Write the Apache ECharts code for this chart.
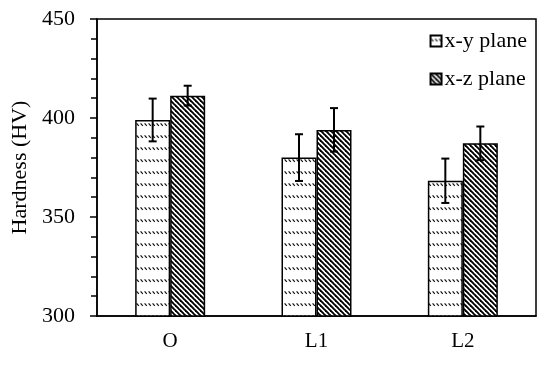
<!DOCTYPE html>
<html>
<head>
<meta charset="utf-8">
<script src="https://cdn.jsdelivr.net/npm/echarts@6/dist/echarts.min.js"></script>
<style>html,body{margin:0;padding:0;background:#fff;}#c{width:550px;height:366px;}</style>
</head>
<body>
<div id="c"></div>
<script>
var categories = ['O', 'L1', 'L2'];
var xyMean = [399, 380, 368.3];
var xyErr = [10.8, 11.8, 11.2];
var xzMean = [411.3, 394, 387.2];
var xzErr = [5, 11, 8.5];
var seriesNames = ['x-y plane', 'x-z plane'];
var yTicks = [300, 350, 400, 450];

var BAR_W = 35;
var FONT = '"Liberation Serif", "Times New Roman", serif';

function makeXZPattern() {
  var s = 5;
  var c = document.createElement('canvas');
  c.width = s; c.height = s;
  var g = c.getContext('2d');
  g.fillStyle = '#fff'; g.fillRect(0, 0, s, s);
  g.strokeStyle = '#000'; g.lineWidth = 1.9;
  for (var k = -1; k <= 1; k++) {
    g.beginPath();
    g.moveTo(k * s - 1, -1);
    g.lineTo(k * s + s + 1, s + 1);
    g.stroke();
  }
  return c;
}
function makeXYPattern() {
  var w = 4, h = 12;
  var c = document.createElement('canvas');
  c.width = w; c.height = h;
  var g = c.getContext('2d');
  g.fillStyle = '#fff'; g.fillRect(0, 0, w, h);
  g.strokeStyle = '#111'; g.lineWidth = 1.2;
  g.beginPath();
  g.moveTo(0.6, 3.4);
  g.lineTo(2.8, 5.8);
  g.stroke();
  return c;
}

var chart = echarts.init(document.getElementById('c'), null, {renderer: 'canvas'});

function errSeries(means, errs, offset) {
  var data = means.map(function (m, i) { return [i, m - errs[i], m + errs[i]]; });
  return {
    type: 'custom',
    silent: true,
    z: 10,
    data: data,
    renderItem: function (params, api) {
      var x = api.value(0);
      var lo = api.coord([x, api.value(1)]);
      var hi = api.coord([x, api.value(2)]);
      var cx = lo[0] + offset;
      var cap = 4;
      var st = {stroke: '#000', lineWidth: 2};
      return {
        type: 'group',
        children: [
          {type: 'line', shape: {x1: cx, y1: lo[1], x2: cx, y2: hi[1]}, style: st},
          {type: 'line', shape: {x1: cx - cap, y1: hi[1], x2: cx + cap, y2: hi[1]}, style: st},
          {type: 'line', shape: {x1: cx - cap, y1: lo[1], x2: cx + cap, y2: lo[1]}, style: st}
        ]
      };
    }
  };
}

var option = {
  animation: false,
  backgroundColor: '#fff',
  grid: {left: 97, right: 14, top: 19, bottom: 50, show: true, borderColor: '#000', borderWidth: 1.5, containLabel: false},
  legend: {
    right: 18, top: 25, orient: 'vertical',
    itemWidth: 11, itemHeight: 11, itemGap: 16,
    icon: 'rect',
    data: seriesNames,
    textStyle: {fontFamily: FONT, fontSize: 22, color: '#000', lineHeight: 22, padding: [0, 0, 0, -2]}
  },
  xAxis: {
    type: 'category',
    data: categories,
    axisLine: {show: true, lineStyle: {color: '#000', width: 1.5}},
    axisTick: {show: false},
    axisLabel: {fontFamily: FONT, fontSize: 21, color: '#000', margin: 15}
  },
  yAxis: {
    type: 'value',
    min: 300, max: 450, interval: 50,
    name: 'Hardness (HV)',
    nameLocation: 'middle',
    nameGap: 66,
    nameRotate: 90,
    nameTextStyle: {fontFamily: FONT, fontSize: 22, color: '#000'},
    axisLine: {show: true, lineStyle: {color: '#000', width: 1.5}},
    axisTick: {show: true, inside: false, length: 7, lineStyle: {color: '#000', width: 1.5}},
    minorTick: {show: true, splitNumber: 5, length: 6, lineStyle: {color: '#000', width: 1.5}},
    splitLine: {show: false},
    axisLabel: {fontFamily: FONT, fontSize: 22, color: '#000', margin: 22,
      formatter: function (v) { return yTicks.indexOf(v) >= 0 ? String(v) : ''; }}
  },
  series: [
    {
      name: seriesNames[0], type: 'bar', barWidth: BAR_W, barGap: '0%',
      data: xyMean,
      itemStyle: {color: {image: makeXYPattern(), repeat: 'repeat'}, borderColor: '#000', borderWidth: 1.5}
    },
    {
      name: seriesNames[1], type: 'bar', barWidth: BAR_W, barGap: '0%',
      data: xzMean,
      itemStyle: {color: {image: makeXZPattern(), repeat: 'repeat'}, borderColor: '#000', borderWidth: 1.5}
    },
    errSeries(xyMean, xyErr, -BAR_W / 2),
    errSeries(xzMean, xzErr, BAR_W / 2)
  ]
};
chart.setOption(option);
</script>
</body>
</html>
